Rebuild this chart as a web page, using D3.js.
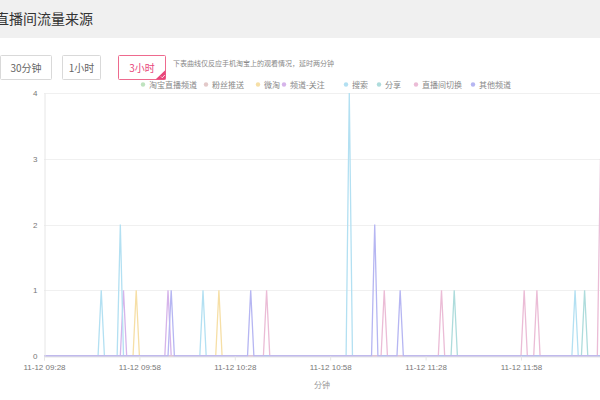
<!DOCTYPE html>
<html><head><meta charset="utf-8">
<script src="https://cdn.jsdelivr.net/npm/d3@7/dist/d3.min.js"></script>
<style>
body{margin:0;background:#fff;font-family:"Noto Sans CJK SC","Noto Sans",sans-serif;overflow:hidden}
</style></head>
<body><svg id="c" width="600" height="400"></svg>
<script>
const seriesNames = ["淘宝直播频道","粉丝推送","微淘","频道-关注","搜索","分享","直播间切换","其他频道"];
const seriesColors = ["#bfe3bf","#e3c9c9","#f6dfa6","#d6b4ea","#b3e0f2","#aedcdc","#ebbcd6","#b6b6f2"];
const startTime = "09:28";
const minuteCount = 180;
const xTickLabels = ["11-12 09:28","11-12 09:58","11-12 10:28","11-12 10:58","11-12 11:28","11-12 11:58"];
const yTicks = [0,1,2,3,4];
// non-zero minutes per series (all other minutes are 0)
const spikesTaobao = [];
const spikesFans = [];
const spikesWeitao = [["09:57",1],["10:23",1]];
const spikesFollow = [["09:53",1],["10:07",1]];
const spikesSearch = [["09:46",1],["09:52",2],["10:18",1],["11:04",4],["12:15",1]];
const spikesShare = [["11:37",1],["12:18",1]];
const spikesSwitch = [["10:38",1],["11:15",1],["11:33",1],["11:59",1],["12:03",1],["12:23",3]];
const spikesOther = [["10:08",1],["10:33",1],["11:12",2],["11:20",1]];
const allSpikes = [spikesTaobao,spikesFans,spikesWeitao,spikesFollow,spikesSearch,spikesShare,spikesSwitch,spikesOther];

const [h0,m0] = startTime.split(":").map(Number);
const times = d3.range(minuteCount).map(i=>{const t=h0*60+m0+i;return String(Math.floor(t/60)).padStart(2,"0")+":"+String(t%60).padStart(2,"0");});
const series = allSpikes.map(sp=>{const mp=new Map(sp);return times.map(t=>mp.get(t)||0);});

const svg = d3.select("#c");
// header
svg.append("rect").attr("x",0).attr("y",0).attr("width",600).attr("height",38).attr("fill","#f0f0f0");
svg.append("text").attr("x",-5).attr("y",24).attr("font-size",14).attr("fill","#333").text("直播间流量来源");

// buttons
const btns=[{t:"30分钟",x:0,w:51,a:false},{t:"1小时",x:62,w:38,a:false},{t:"3小时",x:118,w:47,a:true}];
btns.forEach(b=>{
  svg.append("rect").attr("x",b.x+0.5).attr("y",55.5).attr("width",b.w).attr("height",24)
    .attr("fill","#fff").attr("stroke",b.a?"#ee6a8e":"#d9d9d9").attr("stroke-width",1).attr("rx",1);
  svg.append("text").attr("x",b.x+b.w/2+0.5).attr("y",71.5).attr("text-anchor","middle").attr("font-size",10)
    .attr("fill",b.a?"#e8467a":"#666").text(b.t);
  if(b.a){
    svg.append("path").attr("d",`M${b.x+b.w+0.5},${70} L${b.x+b.w+0.5},${79.5} L${b.x+b.w-9.5},${79.5} Z`).attr("fill","#e8467a");
    svg.append("path").attr("d",`M${b.x+b.w-4},${76.5} l1.3,1.3 l2.5,-2.8`).attr("stroke","#fff").attr("fill","none").attr("stroke-width",0.8);
  }
});
svg.append("text").attr("x",173).attr("y",66).attr("font-size",7).attr("fill","#888").text("下表曲线仅反应手机淘宝上的观看情况，延时两分钟");

// legend
const legendX=[143,206,258,284,346,379,416,473];
seriesNames.forEach((n,i)=>{
  svg.append("circle").attr("cx",legendX[i]).attr("cy",84.5).attr("r",2.2).attr("fill",seriesColors[i]);
  svg.append("text").attr("x",legendX[i]+6).attr("y",87.5).attr("font-size",8).attr("fill","#888").text(n);
});

// scales
const x = d3.scaleLinear().domain([0,minuteCount-1]).range([44,44+(minuteCount-1)*3.18]);
const y = d3.scaleLinear().domain([0,4]).range([356,93]);

const g = svg.append("g");
// grid
g.selectAll(".grid").data(yTicks.slice(1)).enter().append("line")
  .attr("x1",44).attr("x2",600).attr("y1",d=>Math.round(y(d))+0.5).attr("y2",d=>Math.round(y(d))+0.5)
  .attr("stroke","#f0f0f0");
// y axis
const yAxis = d3.axisLeft(y).tickValues(yTicks).tickFormat(d3.format("d")).tickSize(0).tickPadding(7);
const ya = svg.append("g").attr("transform","translate(44.5,0)").call(yAxis);
ya.select(".domain").attr("stroke","#e6e6e6");
ya.selectAll("text").attr("font-size",8).attr("fill","#777").attr("font-family","'Liberation Sans',sans-serif");

// x axis
const tickIdx = xTickLabels.map((l,i)=>i*30);
const xAxis = d3.axisBottom(x).tickValues(tickIdx).tickFormat((d,i)=>xTickLabels[i]).tickSize(4).tickPadding(4);
const xa = svg.append("g").attr("transform","translate(0,356.5)").call(xAxis);
xa.select(".domain").attr("stroke","#e6e6e6");
xa.selectAll(".tick line").attr("stroke","#e6e6e6");
xa.selectAll("text").attr("font-size",8).attr("fill","#777").attr("font-family","'Liberation Sans',sans-serif");
svg.append("text").attr("x",322).attr("y",388).attr("text-anchor","middle").attr("font-size",8).attr("fill","#999").text("分钟");

// lines
const line = d3.line().x((d,i)=>x(i)).y(d=>y(d));
series.forEach((s,i)=>{
  g.append("path").datum(s).attr("d",line).attr("fill","none").attr("stroke",seriesColors[i]).attr("stroke-width",1.3);
});
</script></body></html>
